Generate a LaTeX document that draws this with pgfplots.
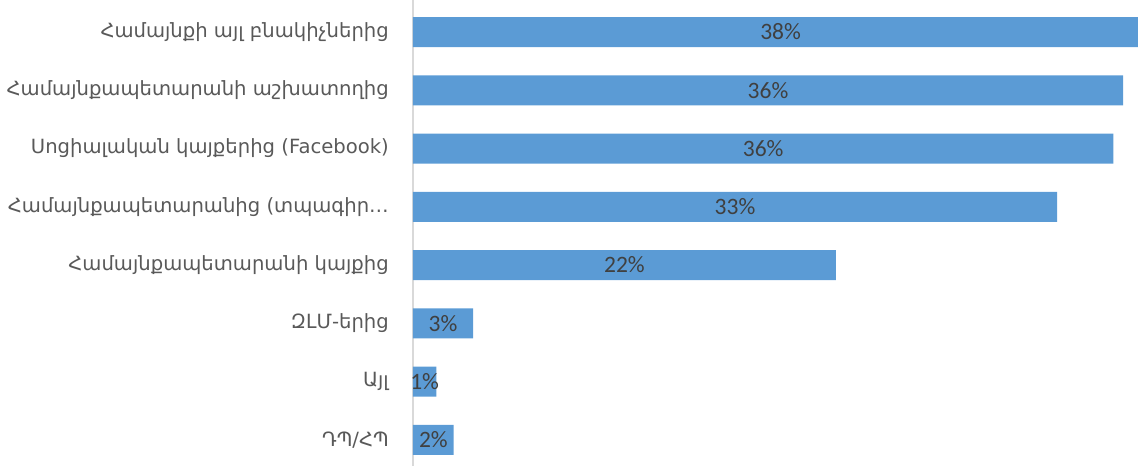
\documentclass[border=0pt]{standalone}
\usepackage{fontspec}
\setmainfont{DejaVu Sans}
\newfontfamily\numfont{Carlito}
\usepackage{pgfplots}
\pgfplotsset{compat=1.18}
\usepackage{pgfplotstable}
\definecolor{barblue}{HTML}{5B9BD5}
\definecolor{labgray}{HTML}{595959}
\definecolor{numgray}{HTML}{404040}
\definecolor{axgray}{HTML}{D9D9D9}

\pgfplotstableread{
y v lab
0 37.9 38
1 36.6 36
2 36.1 36
3 33.2 33
4 21.8 22
5 3.1 3
6 1.2 1
7 2.1 2
}\data

\begin{document}
\begin{tikzpicture}
\begin{axis}[
    scale only axis,
    width=725pt, height=466pt,
    xmin=0, xmax=37.37,
    ymin=-0.55, ymax=7.45,
    y dir=reverse,
    axis x line=none,
    axis y line*=left,
    y axis line style={draw=axgray, line width=1.5pt},
    major tick length=0pt,
    ytick={0,...,7},
    yticklabels={
        Համայնքի այլ բնակիչներից,
        Համայնքապետարանի աշխատողից,
        Սոցիալական կայքերից (Facebook),
        Համայնքապետարանից (տպագիր…,
        Համայնքապետարանի կայքից,
        ԶԼՄ-երից,
        Այլ,
        ԴՊ/ՀՊ},
    y tick label style={font=\fontsize{19.6}{23}\selectfont, text=labgray, inner sep=0pt, xshift=-24pt},
]
\addplot[xbar, bar width=30pt, fill=barblue, draw=none] table[x=v, y=y] {\data};
\addplot[only marks, mark=none, point meta=explicit symbolic,
    nodes near coords={\pgfplotspointmeta\%},
    nodes near coords style={anchor=center, font=\numfont\fontsize{23.5}{27}\selectfont, text=numgray}]
    table[x expr=\thisrow{v}/2, y=y, meta=lab] {\data};
\coordinate (sw) at (rel axis cs:0,0);
\coordinate (ne) at (rel axis cs:1,1);
\end{axis}
\pgfresetboundingbox
\path ([xshift=-413pt]sw) rectangle (ne);
\end{tikzpicture}
\end{document}
